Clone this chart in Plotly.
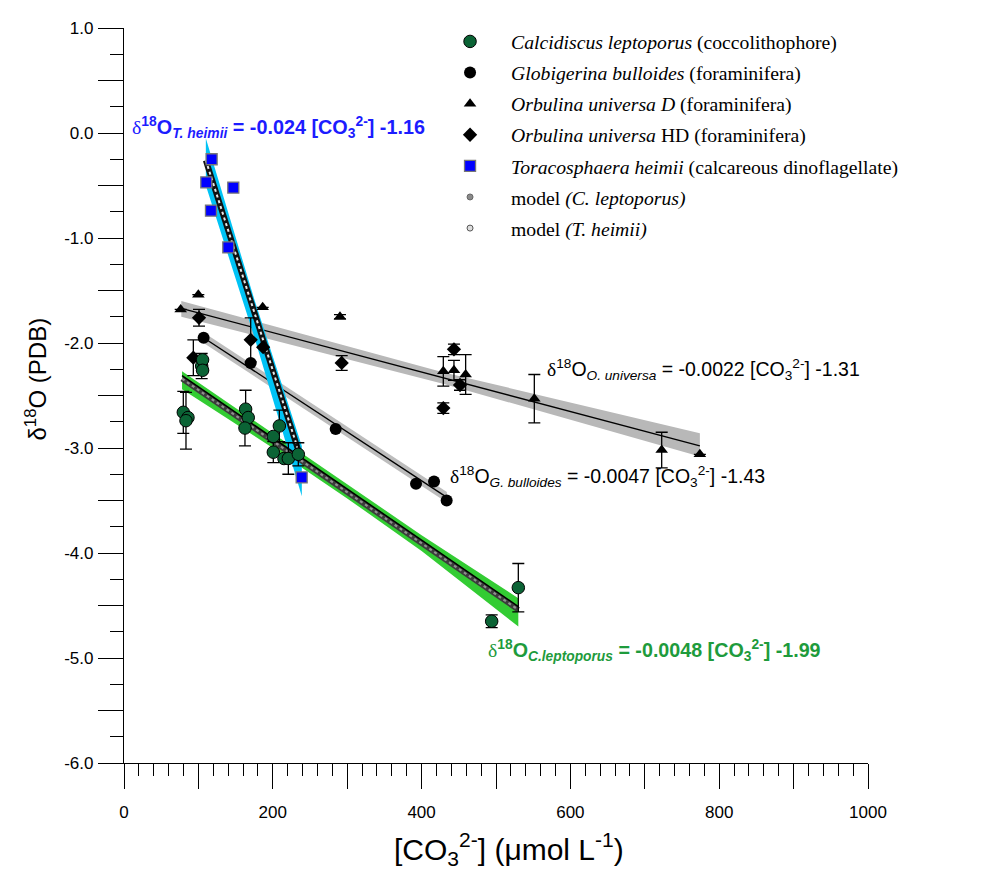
import plotly.graph_objects as go

# ---------------- data ----------------
# Calcidiscus leptoporus (coccolithophore)
cl_x = [79.7, 86.0, 83.3, 104.4, 105.6, 105.6, 163.5, 167.0, 162.6, 208.8, 200.7, 200.7, 215.0, 220.9, 234.3, 494.2, 530.0]
cl_y = [-2.66, -2.71, -2.74, -2.22, -2.16, -2.26, -2.63, -2.71, -2.81, -2.79, -2.89, -3.04, -3.10, -3.10, -3.06, -4.65, -4.33]
cl_err = [0.20, None, 0.27, 0.12, None, None, 0.18, None, 0.17, 0.15, None, 0.10, None, 0.15, 0.11, 0.06, 0.23]

# Globigerina bulloides (foraminifera)
gb_x = [107.0, 170.3, 284.5, 392.5, 416.7, 433.7]
gb_y = [-1.95, -2.19, -2.82, -3.34, -3.32, -3.50]

# Orbulina universa D (foraminifera)
od_x = [76.2, 99.9, 186.4, 290.3, 429.2, 443.5, 459.2, 551.5, 722.7, 774.0]
od_y = [-1.68, -1.54, -1.66, -1.75, -2.27, -2.26, -2.30, -2.53, -3.02, -3.06]
od_err = [None, None, None, 0.02, 0.14, 0.095, 0.19, 0.23, 0.17, None]

# Orbulina universa HD (foraminifera)
oh_x = [100.8, 93.2, 170.3, 187.0, 292.6, 443.5, 451.6, 429.2]
oh_y = [-1.76, -2.14, -1.97, -2.04, -2.19, -2.06, -2.40, -2.62]
oh_err = [0.08, 0.17, 0.21, None, 0.07, 0.05, 0.05, 0.05]

# Toracosphaera heimii (calcareous dinoflagellate)
th_x = [117.8, 110.6, 146.9, 116.9, 140.2, 238.8]
th_y = [-0.25, -0.47, -0.52, -0.74, -1.09, -3.28]

# regression lines (end points) and confidence bands
cl_fit_x = [78.0, 530.0]
cl_fit_y = [-2.31, -4.51]
cl_band_x = [78.0, 200.0, 300.0, 400.0, 530.0]
cl_band_hi = [-2.27, -2.86, -3.35, -3.83, -4.43]
cl_band_lo = [-2.44, -3.00, -3.48, -3.98, -4.70]
cl_model_x = [78.0, 530.0]
cl_model_y = [-2.34, -4.54]

gb_fit_x = [107.0, 434.0]
gb_fit_y = [-1.95, -3.47]
gb_band_x = [107.0, 270.0, 434.0]
gb_band_hi = [-1.90, -2.66, -3.42]
gb_band_lo = [-2.00, -2.76, -3.52]

ou_fit_x = [77.0, 774.0]
ou_fit_y = [-1.67, -2.98]
ou_band_x = [77.0, 430.0, 774.0]
ou_band_hi = [-1.60, -2.28, -2.86]
ou_band_lo = [-1.75, -2.39, -3.08]

th_band_x = [110.0, 175.0, 239.0]
th_band_hi = [-0.05, -1.58, -2.98]
th_band_lo = [-0.50, -1.94, -3.46]
th_model_x = [110.0, 236.0]
th_model_y = [-0.26, -3.06]

# axis ticks
x_tick_vals = [0, 100, 200, 300, 400, 500, 600, 700, 800, 900, 1000]
x_tick_text = ["0", "", "200", "", "400", "", "600", "", "800", "", "1000"]
y_tick_vals = [-6.0, -5.5, -5.0, -4.5, -4.0, -3.5, -3.0, -2.5, -2.0, -1.5, -1.0, -0.5, 0.0, 0.5, 1.0]
y_tick_text = ["-6.0", "", "-5.0", "", "-4.0", "", "-3.0", "", "-2.0", "", "-1.0", "", "0.0", "", "1.0"]

# ---------------- figure ----------------
fig = go.Figure()


def band(xs, hi, lo, color):
    return go.Scatter(x=list(xs) + list(xs[::-1]), y=list(hi) + list(lo[::-1]),
                      fill="toself", fillcolor=color, line=dict(width=0),
                      mode="lines", showlegend=False, hoverinfo="skip")


def err(arr):
    return dict(type="data", array=arr, visible=True, color="black", thickness=1.3, width=6)


fig.add_trace(band(ou_band_x, ou_band_hi, ou_band_lo, "#b8b8b8"))
fig.add_trace(band(gb_band_x, gb_band_hi, gb_band_lo, "#bdbdbd"))
fig.add_trace(go.Scatter(x=ou_fit_x, y=ou_fit_y, mode="lines", line=dict(color="black", width=1.3), showlegend=False))
fig.add_trace(go.Scatter(x=gb_fit_x, y=gb_fit_y, mode="lines", line=dict(color="black", width=1.3), showlegend=False))
fig.add_trace(band(cl_band_x, cl_band_hi, cl_band_lo, "#33cc33"))
fig.add_trace(band(th_band_x, th_band_hi, th_band_lo, "#00c3f5"))
fig.add_trace(go.Scatter(x=th_model_x, y=th_model_y, mode="lines", line=dict(color="#111111", width=6), showlegend=False))
fig.add_trace(go.Scatter(x=th_model_x, y=th_model_y, mode="lines", line=dict(color="#e8e8e8", width=2, dash="dot"), showlegend=False))
fig.add_trace(go.Scatter(x=cl_model_x, y=cl_model_y, mode="lines", line=dict(color="#3c3c3c", width=5.5), showlegend=False))
fig.add_trace(go.Scatter(x=cl_model_x, y=cl_model_y, mode="lines", line=dict(color="#8f8f8f", width=2.2, dash="dot"), showlegend=False))
fig.add_trace(go.Scatter(x=cl_fit_x, y=cl_fit_y, mode="lines", line=dict(color="black", width=1.5), showlegend=False))

fig.add_trace(go.Scatter(x=od_x, y=od_y, mode="markers", error_y=err(od_err),
                         marker=dict(symbol="triangle-up", size=11, color="black"),
                         name="<i>Orbulina universa D</i> (foraminifera)", legendrank=3, legendgroup="c"))
fig.add_trace(go.Scatter(x=oh_x, y=oh_y, mode="markers", error_y=err(oh_err),
                         marker=dict(symbol="diamond", size=11, color="black"),
                         name="<i>Orbulina universa</i> HD (foraminifera)", legendrank=4, legendgroup="d"))
fig.add_trace(go.Scatter(x=gb_x, y=gb_y, mode="markers",
                         marker=dict(symbol="circle", size=12, color="black"),
                         name="<i>Globigerina bulloides</i> (foraminifera)", legendrank=2, legendgroup="b"))
fig.add_trace(go.Scatter(x=cl_x, y=cl_y, mode="markers", error_y=err(cl_err),
                         marker=dict(symbol="circle", size=12.5, color="#0b6335", line=dict(color="black", width=1)),
                         name="<i>Calcidiscus leptoporus</i> (coccolithophore)", legendrank=1, legendgroup="a"))
fig.add_trace(go.Scatter(x=th_x, y=th_y, mode="markers",
                         marker=dict(symbol="square", size=11, color="#0000ff", line=dict(color="#777777", width=1.3)),
                         name="<i>Toracosphaera heimii</i> (calcareous dinoflagellate)", legendrank=5, legendgroup="e"))
# legend entries of the model curves (drawn above as lines)
fig.add_trace(go.Scatter(x=[None], y=[None], mode="markers",
                         marker=dict(symbol="circle", size=6, color="#8a8a8a", line=dict(color="#666666", width=1)),
                         name="model <i>(C. leptoporus)</i>", legendrank=6, legendgroup="f"))
fig.add_trace(go.Scatter(x=[None], y=[None], mode="markers",
                         marker=dict(symbol="circle", size=6, color="#dddddd", line=dict(color="#555555", width=1)),
                         name="model <i>(T. heimii)</i>", legendrank=7, legendgroup="g"))

DS = '<span style="font-family:Liberation Serif;font-weight:normal">δ</span>'
ann_font = "Liberation Sans"
annotations = [
    dict(x=8, y=0.056, xref="x", yref="y", xanchor="left", yanchor="middle", showarrow=False,
         text=DS + "<b><sup>18</sup>O<sub><i>T. heimii</i></sub> = -0.024 [CO<sub>3</sub><sup>2-</sup>] -1.16</b>",
         font=dict(family=ann_font, size=19.8, color="#1c1cff")),
    dict(x=566, y=-2.25, xref="x", yref="y", xanchor="left", yanchor="middle", showarrow=False,
         text=DS + "<sup>18</sup>O<sub><i>O. universa</i></sub> = -0.0022 [CO<sub>3</sub><sup>2-</sup>] -1.31",
         font=dict(family=ann_font, size=19.5, color="black")),
    dict(x=436, y=-3.27, xref="x", yref="y", xanchor="left", yanchor="middle", showarrow=False,
         text=DS + "<sup>18</sup>O<sub><i>G. bulloides</i></sub> = -0.0047 [CO<sub>3</sub><sup>2-</sup>] -1.43",
         font=dict(family=ann_font, size=19.5, color="black")),
    dict(x=486, y=-4.93, xref="x", yref="y", xanchor="left", yanchor="middle", showarrow=False,
         text=DS + "<b><sup>18</sup>O<sub><i>C.leptoporus</i></sub> = -0.0048 [CO<sub>3</sub><sup>2-</sup>] -1.99</b>",
         font=dict(family=ann_font, size=19.7, color="#1e9b3c")),
    dict(x=-0.118, y=0.522, xref="paper", yref="paper", xanchor="center", yanchor="middle", showarrow=False,
         textangle=-90, text="δ<sup>18</sup>O (PDB)", font=dict(family="Liberation Sans", size=24, color="black")),
    dict(x=0.5175, y=-0.117, xref="paper", yref="paper", xanchor="center", yanchor="middle", showarrow=False,
         text="[CO<sub>3</sub><sup>2-</sup>] (μmol L<sup>-1</sup>)", font=dict(family="Liberation Sans", size=30, color="black")),
]

fig.update_layout(
    width=977, height=863,
    margin=dict(l=116, r=117, t=11, b=108),
    paper_bgcolor="white", plot_bgcolor="white",
    annotations=annotations,
    showlegend=True,
    legend=dict(x=0.41, y=1.008, xanchor="left", yanchor="top",
                font=dict(family="Liberation Serif", size=19.7, color="black"),
                bgcolor="rgba(0,0,0,0)", traceorder="grouped", tracegroupgap=2.5, itemwidth=72),
    xaxis=dict(range=[0, 1000], showline=True, linecolor="black", linewidth=1.3, showgrid=False, zeroline=False,
               ticks="outside", tickvals=x_tick_vals, ticktext=x_tick_text, ticklen=25, tickwidth=1, tickcolor="black",
               minor=dict(dtick=20, ticklen=12, tickwidth=1, tickcolor="black", ticks="outside"),
               tickfont=dict(family="Liberation Sans", size=17, color="black"), ticklabelstandoff=8),
    yaxis=dict(range=[-6, 1], showline=True, linecolor="black", linewidth=1.3, showgrid=False, zeroline=False,
               ticks="outside", tickvals=y_tick_vals, ticktext=y_tick_text, ticklen=25, tickwidth=1, tickcolor="black",
               minor=dict(dtick=0.25, ticklen=13, tickwidth=1, tickcolor="black", ticks="outside"),
               tickfont=dict(family="Liberation Sans", size=17, color="black"), ticklabelstandoff=1),
)

fig.write_html("out.html")
